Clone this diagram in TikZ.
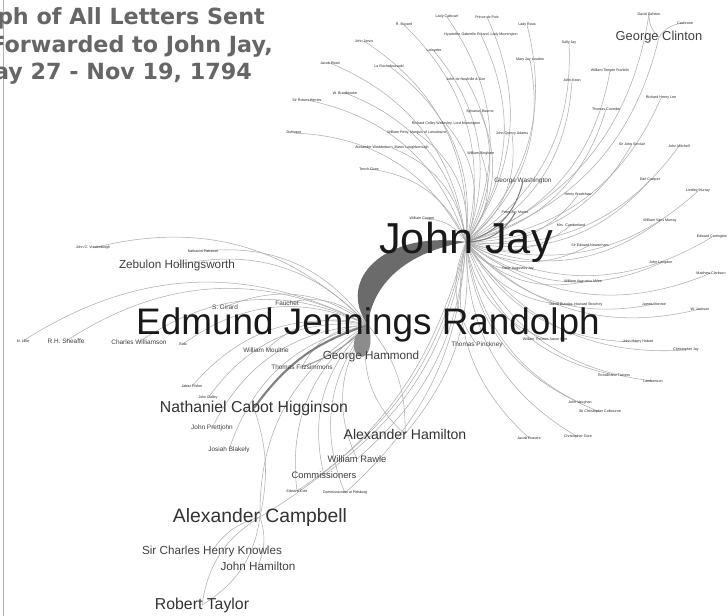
\documentclass[tikz,border=0pt]{standalone}
\usepackage{fontspec}
\setmainfont{Liberation Sans}
\newfontfamily\titlefont{DejaVu Sans}
\pgfdeclarelayer{background}
\pgfsetlayers{background,main}

\tikzset{
  every node/.style={inner sep=0pt},
  tinyname/.style={font=\fontsize{3.1}{3.5}\selectfont, text=black!85},
  smallname/.style={font=\fontsize{5.5}{6}\selectfont, text=black!75},
  midname/.style={font=\fontsize{8}{9}\selectfont, text=black!75},
  bigname/.style={font=\fontsize{10}{11}\selectfont, text=black!75},
  edge/.style={draw=black!32, line width=0.45pt},
  darkedge/.style={draw=black!50, line width=0.9pt},
  band/.style={fill=black!58},
  titletext/.style={font=\titlefont\bfseries\fontsize{19}{21}\selectfont, text=black!60, anchor=base east},
}

\begin{document}
\begin{tikzpicture}[x=0.03cm, y=-0.03cm]
	\clip (0,0) rectangle (728,616);

	% title, cut at the left edge
	\node[titletext] (t1) at (265,24) {Graph of All Letters Sent};
	\node[titletext] (t2) at (273,52) {Forwarded to John Jay,};
	\node[titletext] (t3) at (252,79) {May 27 - Nov 19, 1794};

	% the two hubs
	\node[font=\fontsize{37}{39}\selectfont, text=black!90] (jay) at (466,242) {John Jay};
	\node[font=\fontsize{31.5}{33}\selectfont, text=black!90] (rand) at (368,325) {Edmund Jennings Randolph};

	% around John Jay
	\node[tinyname] (bayard) at (404,25) {R. Bayard};
	\node[tinyname] (cathcart) at (447,17) {Lady Cathcart};
	\node[tinyname] (poix) at (487,17) {Prince de Poix};
	\node[tinyname] (rous) at (527,25) {Lady Rous};
	\node[tinyname] (mornington) at (481,35) {Hyacinthe Gabrielle Roland, Lady Mornington};
	\node[tinyname] (jervis) at (364,41) {John Jervis};
	\node[tinyname] (lafayette) at (434,51) {Lafayette};
	\node[tinyname] (sallyjay) at (569,43) {Sally Jay};
	\node[tinyname] (loudon) at (530,60) {Mary Jay Loudon};
	\node[tinyname] (jacobread) at (330,63) {Jacob Read};
	\node[tinyname] (rochef) at (389,66) {La Rochefoucauld};
	\node[tinyname] (kean) at (572,80) {John Kean};
	\node[tinyname] (franklin) at (610,71) {William Temple Franklin};
	\node[tinyname] (neufville) at (466,79) {John de Neufville \& Son};
	\node[tinyname] (bradbrooke) at (345,93) {W. Bradbrooke};
	\node[tinyname] (herries) at (307,100) {Sir Robert Herries};
	\node[tinyname] (rhlee) at (661,98) {Richard Henry Lee};
	\node[tinyname] (coombe) at (606,109) {Thomas Coombe};
	\node[tinyname] (bourne) at (480,112) {Sylvanus Bourne};
	\node[tinyname] (wellesley) at (446,124) {Richard Colley Wellesley, Lord Mornington};
	\node[tinyname] (lansdowne) at (417,133) {William Petty, Marquis of Lansdowne};
	\node[tinyname] (dufroque) at (294,133) {Dufroque};
	\node[tinyname] (jqa) at (512,134) {John Quincy Adams};
	\node[tinyname] (sinclair) at (632,144) {Sir John Sinclair};
	\node[tinyname] (mitchell) at (679,146) {John Mitchell};
	\node[tinyname] (loughborough) at (392,148) {Alexander Wedderburn, Baron Loughborough};
	\node[tinyname] (bingham) at (481,154) {William Bingham};
	\node[tinyname] (coxe) at (369,169) {Tench Coxe};
	\node[smallname] (washington) at (523,181) {George Washington};
	\node[tinyname] (cowper) at (650,180) {Earl Cowper};
	\node[tinyname] (lmurray) at (698,191) {Lindley Murray};
	\node[tinyname] (bradshaw) at (578,195) {Henry Bradshaw};
	\node[tinyname] (cooper) at (422,219) {William Cooper};
	\node[tinyname] (munro) at (515,213) {Peter Jay Munro};
	\node[tinyname] (vmurray) at (660,221) {William Vans Murray};
	\node[tinyname] (cumberland) at (571,225) {Mrs. Cumberland};
	\node[tinyname] (carrington) at (712,237) {Edward Carrington};
	\node[tinyname] (newenham) at (590,245) {Sir Edward Newenham};
	\node[tinyname] (langdon) at (661,263) {John Langdon};
	\node[tinyname] (clarkson) at (711,273) {Matthew Clarkson};
	\node[tinyname] (pajay) at (518,269) {Peter Augustus Jay};
	\node[tinyname] (miles) at (583,282) {William Augustus Miles};
	\node[tinyname] (dundas) at (576,305) {David Dundas, Howard Strachey};
	\node[tinyname] (monroe) at (654,304) {James Monroe};
	\node[tinyname] (jackson) at (700,309) {W. Jackson};
	\node[tinyname] (burr) at (545,339) {William Thomas Aaron Burr};
	\node[tinyname] (hobart) at (638,342) {John Henry Hobart};
	\node[tinyname] (cjay) at (686,350) {Christopher Jay};
	\node[tinyname] (travers) at (614,375) {Ronald and Travers};
	\node[tinyname] (lambert) at (653,381) {Lambertson};
	\node[tinyname] (vaughan) at (580,403) {John Vaughan};
	\node[tinyname] (colbourne) at (600,412) {Sir Christopher Colbourne};
	\node[tinyname] (rosters) at (529,438) {Jacob Rosters};
	\node[tinyname] (gore) at (578,437) {Christopher Gore};
	\node[font=\fontsize{11}{12}\selectfont, text=black!75] (clinton) at (659,37) {George Clinton};
	\node[tinyname] (gelston) at (649,14) {David Gelston};
	\node[tinyname] (cochrane) at (685,23) {Cochrane};
	\node[smallname] (pinckney) at (477,345) {Thomas Pinckney};

	% around Randolph
	\node[tinyname] (vredenburgh) at (93,248) {John C. Vredenburgh};
	\node[tinyname] (falconer) at (203,251) {Nathaniel Falconer};
	\node[bigname] (hollingsworth) at (177,265) {Zebulon Hollingsworth};
	\node[smallname] (girard) at (225,307) {S. Girard};
	\node[smallname] (fauchet) at (287,303) {Fauchet};
	\node[tinyname] (lillie) at (23,341) {M. Lillie};
	\node[smallname] (sheaffe) at (66,341) {R.H. Sheaffe};
	\node[smallname] (williamson) at (139,342) {Charles Williamson};
	\node[tinyname] (bala) at (183,344) {Bala};
	\node[smallname] (moultrie) at (266,350) {William Moultrie};
	\node[bigname] (hammond) at (371,356) {George Hammond};
	\node[smallname] (fitz) at (302,367) {Thomas Fitzsimmons};
	\node[tinyname] (fisher) at (192,386) {Jabez Fisher};
	\node[tinyname] (dalley) at (208,398) {John Dalley};
	\node[font=\fontsize{13.5}{15}\selectfont, text=black!80] (higginson) at (254,408) {Nathaniel Cabot Higginson};
	\node[smallname] (prettjohn) at (212,428) {John Prettjohn};
	\node[font=\fontsize{12}{13}\selectfont, text=black!80] (hamilton) at (405,434) {Alexander Hamilton};
	\node[smallname] (blakely) at (229,450) {Josiah Blakely};
	\node[midname] (rawle) at (357,459) {William Rawle};
	\node[midname] (commissioners) at (324,475) {Commissioners};
	\node[tinyname] (cole) at (297,491) {Edward Cole};
	\node[tinyname] (pittsburg) at (345,493) {Commissioners at Pittsburg};
	\node[font=\fontsize{16.5}{18}\selectfont, text=black!80] (campbell) at (260,517) {Alexander Campbell};
	\node[bigname] (knowles) at (212,551) {Sir Charles Henry Knowles};
	\node[bigname] (jhamilton) at (258,566) {John Hamilton};
	\node[font=\fontsize{13.5}{15}\selectfont, text=black!80] (taylor) at (202,605) {Robert Taylor};

	\begin{pgfonlayer}{background}
	\fill[white] (0,0) rectangle (728,616);
	\draw[black!30, line width=0.6pt] (3,0) -- (3,616);
	% letters to John Jay
	\foreach \n in {bayard,cathcart,poix,rous,mornington,jervis,lafayette,sallyjay,loudon,jacobread,rochef,kean,franklin,neufville,bradbrooke,herries,rhlee,coombe,bourne,wellesley,lansdowne,dufroque,jqa,sinclair,mitchell,loughborough,bingham,coxe,cowper,lmurray,bradshaw,cooper,vmurray,cumberland,carrington,newenham,langdon,clarkson,pajay,miles,dundas,monroe,jackson,burr,hobart,cjay,travers,lambert,vaughan,colbourne,rosters,gore,gelston,pinckney}
		\draw[edge] (jay.center) to[bend right=30] (\n.center);
	\draw[darkedge] (jay.center) to[bend right=30] (washington.center);
	\draw[darkedge] (jay.center) to[bend right=30] (munro.center);
	\draw[edge] (jay.center) to[bend right=30] (clinton.center);
	\draw[edge] (gelston.center) to[bend right=25] (clinton.center);
	\draw[edge] (cochrane.center) to[bend right=25] (clinton.center);
	\foreach \n in {hamilton,rawle,commissioners,cole,pittsburg,campbell}
		\draw[edge] (jay.center) to[bend left=22] (\n.center);

	% letters to Randolph
	\foreach \n in {vredenburgh,falconer,hollingsworth,girard,fauchet,lillie,sheaffe,williamson,bala,moultrie,fitz,fisher,dalley,prettjohn,blakely,hamilton,rawle,commissioners,cole,pittsburg,campbell}
		\draw[edge] (rand.center) to[bend right=30] (\n.center);
	\draw[edge] (rand.center) to[bend left=20] (hamilton.center);
	\draw[draw=black!50, line width=1.8pt] (rand.center) to[bend right=18] (higginson.center);
	\draw[draw=black!40, line width=0.9pt] (rand.center) to[bend left=12] (fitz.center);

	% the lower group
	\draw[edge] (campbell.center) to[bend right=25] (taylor.center);
	\draw[edge] (campbell.center) to[bend left=25] (taylor.center);
	\draw[edge] (campbell.center) to[bend right=20] (knowles.center);
	\draw[edge] (campbell.center) to[bend left=20] (jhamilton.center);
	\draw[edge] (higginson.center) to[bend left=15] (campbell.center);

	% Randolph to Jay, the heavy one
	\fill[band] (rand.center) .. controls (335,280) and (385,230) .. (jay.center)
		.. controls (405,252) and (372,285) .. (rand.center);
	\coordinate (loop) at (362,357);
	\fill[black!45] (rand.center) .. controls (350,333) and (350,355) .. (loop)
		.. controls (372,355) and (372,335) .. (rand.center);
	\end{pgfonlayer}
\end{tikzpicture}
\end{document}
